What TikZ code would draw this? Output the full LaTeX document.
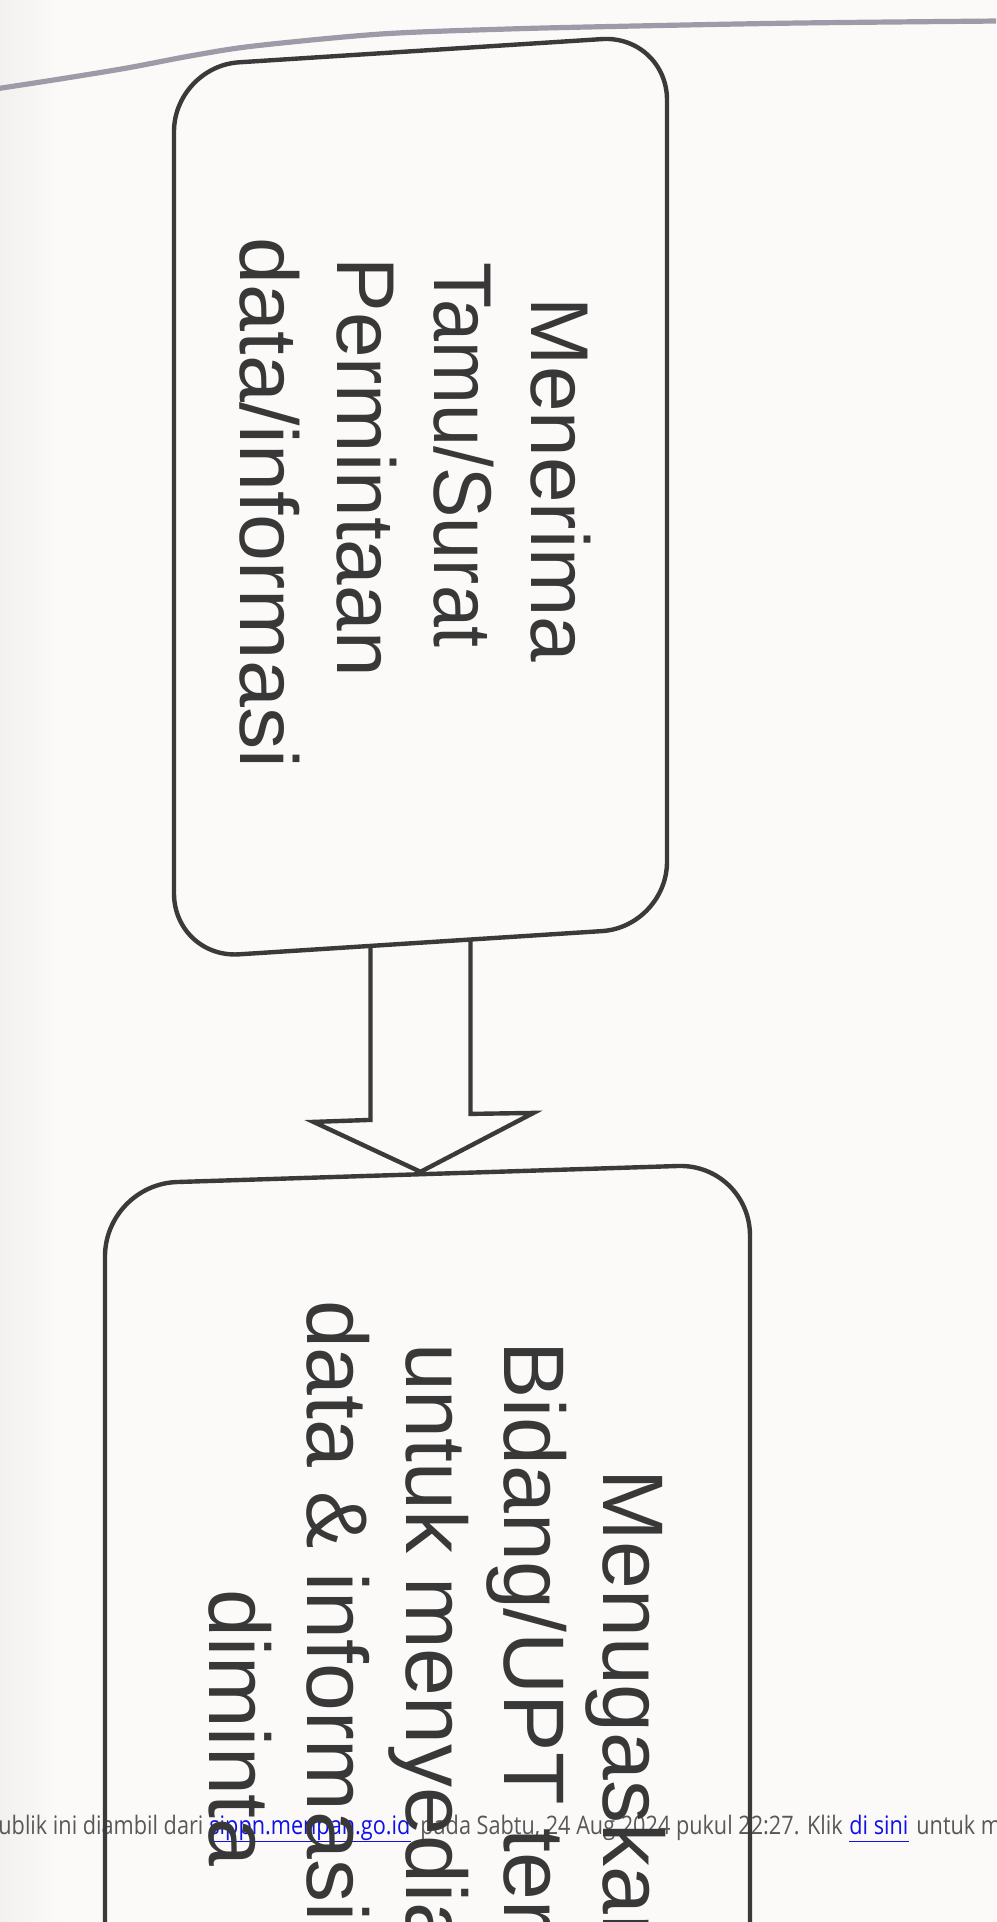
\documentclass[tikz,border=0pt]{standalone}
\usepackage{fontspec}
\setmainfont{Liberation Sans}
\newfontfamily\wmfont{Open Sans}[FakeStretch=0.85]
\usetikzlibrary{calc}
\definecolor{bgpaper}{RGB}{251,250,249}
\definecolor{bgshade}{RGB}{243,241,239}
\definecolor{inkline}{RGB}{58,58,58}
\definecolor{inktext}{RGB}{56,56,56}
\definecolor{pageedge}{RGB}{160,154,168}
\definecolor{wmgray}{RGB}{88,88,88}
\definecolor{linkblue}{RGB}{16,16,232}
\begin{document}
\begin{tikzpicture}[x=0.5pt,y=-0.5pt,
  flowbox/.style={draw=inkline, line width=2.2pt, rounded corners=#1,
    transform shape, rotate=-90, inner sep=0pt},
  steptext/.style={text=inktext, rotate=-90, align=center, inner sep=0pt},
  arrowline/.style={draw=inkline, line width=2.2pt, line join=miter},
  wm/.style={font=\wmfont\fontsize{12.75pt}{15pt}\selectfont, text=wmgray,
    inner sep=0pt, anchor=base west},
  wmlink/.style={wm, text=linkblue}]
\useasboundingbox (0,0) rectangle (996,1922);
\clip (0,0) rectangle (996,1922);
% paper
\fill[bgpaper] (0,0) rectangle (996,1922);
\shade[left color=bgshade, right color=bgpaper] (0,0) rectangle (60,1922);
% page edge
\draw[pageedge, line width=2.6pt, line cap=round]
  plot[smooth] coordinates {(-5,89) (60,79) (127,68) (190,56) (254,46) (381,34) (508,29) (635,26) (800,23) (1000,21)};
% watermark line
\node[wm] (w1) at (-2,1834) {\llap{p}ublik ini diambil dari};
\node[wmlink] (w2) at (209,1834) {sippn.menpan.go.id};
\node[wm] (w3) at (420,1834) {pada Sabtu, 24 Aug 2024 pukul 22:27. Klik};
\node[wmlink] (w4) at (849,1834) {di sini};
\node[wm] (w5) at (916,1834) {untuk m};
\draw[linkblue, line width=0.55pt] ([yshift=-3.6pt]w2.base west) -- ([yshift=-3.6pt]w2.base east);
\draw[linkblue, line width=0.55pt] ([yshift=-3.6pt]w4.base west) -- ([yshift=-3.6pt]w4.base east);
% boxes
\begin{scope}[shift={(420.5,496.7)}, yslant=0.064]
  \node[flowbox=32.5pt, minimum width=446pt, minimum height=246.5pt] (b1) at (0,0) {};
\end{scope}
\begin{scope}[shift={(427.5,1724)}, yslant=0.032]
  \node[flowbox=36pt, minimum width=550pt, minimum height=322.5pt] (b2) at (0,0) {};
\end{scope}
% block arrow
\draw[arrowline] ($(b1.east)+(-50,3)$) -- ($(b1.east)+(-50,175)$)
  -- ($(b1.east)+(-107,177)$) -- (b1.east |- b2.west)
  -- ($(b1.east)+(113,168)$) -- ($(b1.east)+(50,169)$) -- ($(b1.east)+(50,-6)$);
% texts
\node[steptext, font=\fontsize{41pt}{48.5pt}\selectfont] (t1) at (415,480)
  {Menerima\\\hspace*{-25pt}\scalebox{0.92}[1]{Tamu/Surat}\\\hspace*{-13pt}Permintaan\\\hspace*{23pt}\scalebox{1.03}[1]{data/informasi}};
\node[steptext, font=\fontsize{43pt}{49.25pt}\selectfont] (t2) at (437,1716)
  {Menugaskan\\\hspace*{-14pt}Bidang/UPT terkait\\untuk menyediakan\\data \& informasi yang\\\hspace*{12pt}diminta};
\end{tikzpicture}
\end{document}
